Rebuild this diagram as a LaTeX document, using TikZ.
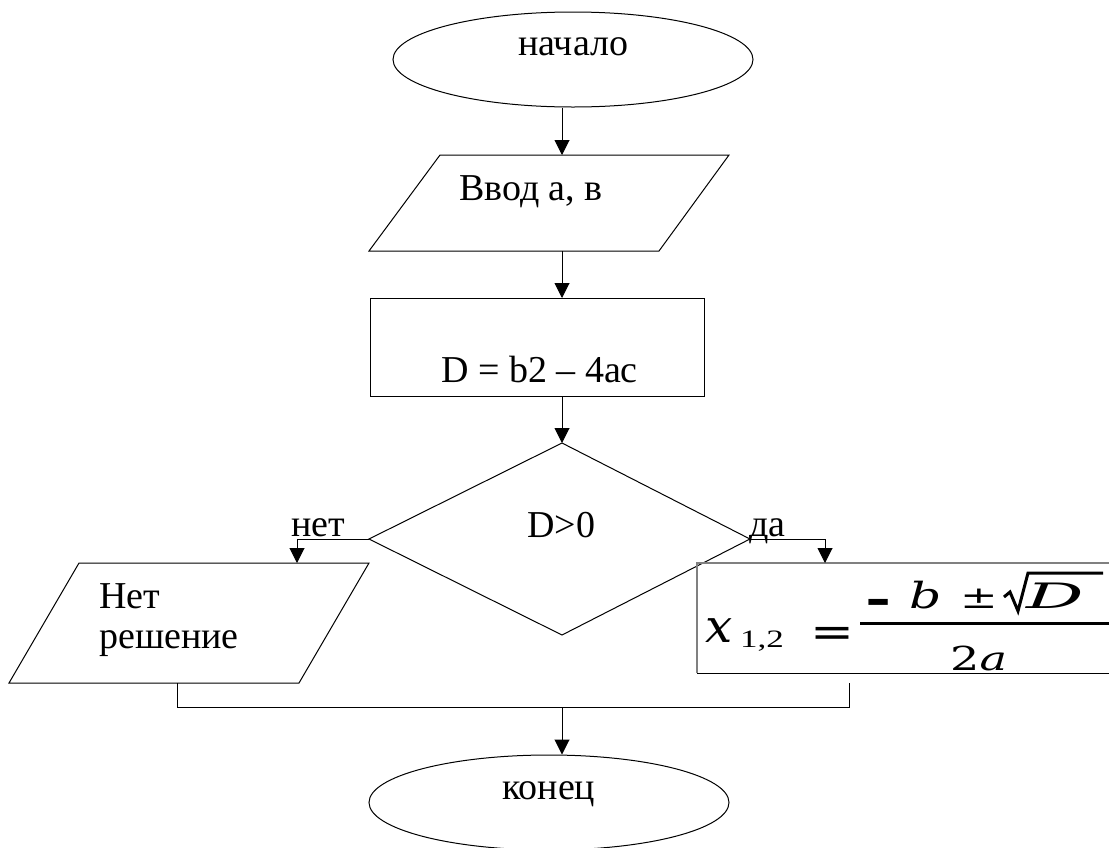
\documentclass[tikz,border=0pt]{standalone}
\usepackage{fontspec}
\usepackage{graphicx}
\setmainfont{Liberation Serif}
\newfontfamily\fml{DejaVu Serif}
\newfontfamily\fsans{DejaVu Sans}
\usetikzlibrary{arrows.meta,shapes.geometric}
\begin{document}
\begin{tikzpicture}[x=1pt,y=-1pt,
  ln/.style={line width=1pt},
  arr/.style={ln,-{Triangle[width=15pt,length=15pt]}},
  txt/.style={font=\fontsize{38}{40}\selectfont, inner sep=0pt, anchor=base west},
  fm/.style={inner sep=0pt, anchor=base west}]
\useasboundingbox (0,0) rectangle (1109,847);
% start
\node[draw, ellipse, ln, minimum width=360pt, minimum height=95pt, inner sep=0pt] (start) at (573,59.5) {};
\node[txt] (tstart) at (518,55) {начало};
% input parallelogram
\draw[ln] (440,155) -- (729,155) -- (659,251) -- (369,251) -- cycle;
\coordinate (inT) at (562,155);
\coordinate (inB) at (562,251);
\node[txt] (tin) at (459,200) {Ввод а, в};
% process
\draw[ln] (370,298) rectangle (704,396);
\coordinate (prT) at (562,298);
\coordinate (prB) at (562,396);
\node[txt] (tpr) at (441,382) {D = b2 – 4ac};
% decision
\draw[ln] (562,443) -- (750,539) -- (562,635) -- (369,539) -- cycle;
\coordinate (dT) at (562,443);
\coordinate (dL) at (369,539);
\coordinate (dR) at (750,539);
\node[txt] (tdec) at (527,537) {D>0};
\node[txt] (tno) at (291,536) {нет};
\node[txt] (tyes) at (749,536) {да};
% no output
\draw[ln] (79,563) -- (369,563) -- (299,683) -- (9,683) -- cycle;
\coordinate (noT) at (297,563);
\coordinate (noB) at (177,683);
\node[txt] (tno1) at (99,608) {Нет};
\node[txt] (tno2) at (99,648) {решение};
% yes formula box
\draw[line width=1.3pt, black!50] (697,673) -- (697,563) -- (1115,563);
\draw[ln] (697,673) -- (1115,673);
\coordinate (yT) at (825,563);
\coordinate (yB) at (849,683);
\node[fm, font=\fml\itshape\fontsize{46}{48}\selectfont] (fx) at (705,642) {\scalebox{1.05}[1]{x}};
\node[fm, font=\fontsize{25}{28}\selectfont] (fsub) at (740,647) {\scalebox{1.4}[1]{1,2}};
\node[fm, font=\fsans\fontsize{42}{44}\selectfont] (feq) at (810,646) {\scalebox{1.25}[1]{=}};
\draw[line width=3pt] (860,623) -- (1109,623);
\node[fm, font=\fsans\bfseries\fontsize{42}{44}\selectfont] (fmin) at (865,614) {\scalebox{1.5}[1]{-}};
\node[fm, font=\fml\itshape\fontsize{36}{38}\selectfont] (fb) at (909,608) {\scalebox{1.4}[1]{b}};
\node[fm, font=\fml\fontsize{31}{34}\selectfont] (fpm) at (960,608) {\scalebox{1.45}[1]{±}};
\draw[line width=3pt, line join=miter] (1004,597) -- (1010,592) -- (1018,611) -- (1028,573) -- (1103,573);
\node[fm, font=\fml\itshape\fontsize{35}{38}\selectfont] (fD) at (1026,608) {\scalebox{2.05}[1]{D}};
\node[fm, font=\fml\fontsize{33}{36}\selectfont] (f2a) at (950,670) {\scalebox{1.4}[1]{2\textit{a}}};
% merge
\coordinate (mL) at (177,707);
\coordinate (mR) at (849,707);
\coordinate (mC) at (562,707);
% end
\node[draw, ellipse, ln, minimum width=360pt, minimum height=95pt, inner sep=0pt] (stop) at (549,802.5) {};
\node[txt] (tstop) at (502,799) {конец};
% connectors
\draw[arr] (start.south -| inT) -- (inT);
\draw[arr] (inB) -- (prT);
\draw[arr] (prB) -- (dT);
\draw[arr] (dL) -| (noT);
\draw[arr] (dR) -| (yT);
\draw[ln] (noB) |- (mR) -- (yB);
\draw[arr] (mC) -- (stop.north -| mC);
\end{tikzpicture}
\end{document}
